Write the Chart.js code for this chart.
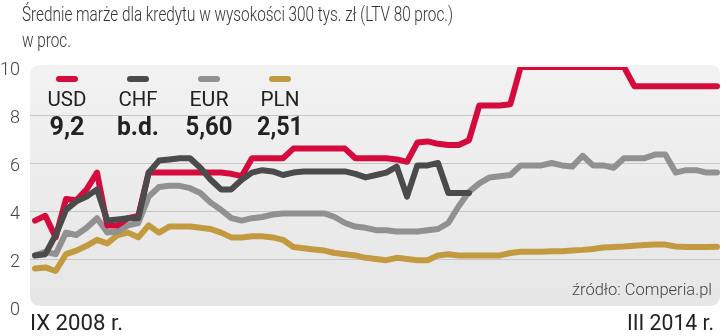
<!DOCTYPE html>
<html>
<head>
<meta charset="utf-8">
<script src="https://cdn.jsdelivr.net/npm/chart.js@4/dist/chart.umd.min.js"></script>
<style>
  html, body { margin: 0; padding: 0; background: #fff; }
  #wrap { position: relative; width: 721px; height: 336px; }
</style>
</head>
<body>
<div id="wrap"><canvas id="marginChart"></canvas></div>
<script>
// Średnie marże kredytowe, miesięcznie IX 2008 - III 2014 (w proc.)
var usd = [3.6, 3.8, 2.9, 4.5, 4.45, 4.9, 5.6, 3.4, 3.4, 3.7, 3.8, 5.6, 5.6, 5.6, 5.6, 5.6, 5.6,
  5.6, 5.6, 5.55, 5.45, 6.2, 6.2, 6.2, 6.2, 6.6, 6.6, 6.6, 6.6, 6.6, 6.6, 6.2, 6.2, 6.2,
  6.2, 6.15, 6.05, 6.85, 6.9, 6.8, 6.75, 6.75, 6.95, 8.4, 8.4, 8.4, 8.45, 10, 10, 10, 10,
  10, 10, 10, 10, 10, 10, 10, 9.2, 9.2, 9.2, 9.2, 9.2, 9.2, 9.2, 9.2, 9.2];
var chf = [2.15, 2.2, 3.0, 4.05, 4.4, 4.6, 4.9, 3.6, 3.65, 3.7, 3.7, 5.6, 6.1, 6.15, 6.2, 6.2, 5.8,
  5.3, 4.9, 4.9, 5.3, 5.6, 5.7, 5.65, 5.5, 5.6, 5.65, 5.65, 5.65, 5.65, 5.65, 5.55, 5.4, 5.5,
  5.6, 5.85, 4.6, 5.9, 5.9, 6.0, 4.75, 4.75, 4.75];
var eur = [2.15, 2.3, 2.2, 3.1, 3.0, 3.3, 3.7, 3.1, 3.15, 3.4, 3.5, 4.6, 5.0, 5.05, 5.05, 4.95, 4.75,
  4.35, 4.05, 3.7, 3.6, 3.7, 3.75, 3.85, 3.9, 3.9, 3.9, 3.9, 3.9, 3.75, 3.5, 3.35, 3.3, 3.2,
  3.2, 3.15, 3.15, 3.15, 3.2, 3.25, 3.5, 4.2, 4.8, 5.15, 5.4, 5.45, 5.5, 5.9, 5.9, 5.9, 6.0,
  5.9, 5.85, 6.3, 5.9, 5.9, 5.8, 6.2, 6.2, 6.2, 6.35, 6.35, 5.6, 5.7, 5.7, 5.6, 5.6];
var pln = [1.6, 1.65, 1.5, 2.2, 2.35, 2.55, 2.8, 2.65, 3.0, 3.1, 2.9, 3.4, 3.1, 3.35, 3.35, 3.35, 3.3,
  3.25, 3.1, 2.9, 2.9, 2.95, 2.95, 2.9, 2.8, 2.5, 2.45, 2.4, 2.35, 2.25, 2.2, 2.15, 2.05, 2.0,
  1.95, 2.05, 2.0, 1.95, 1.95, 2.15, 2.2, 2.15, 2.15, 2.15, 2.15, 2.15, 2.25, 2.3, 2.3, 2.3, 2.32,
  2.32, 2.35, 2.38, 2.42, 2.48, 2.5, 2.52, 2.55, 2.58, 2.6, 2.6, 2.52, 2.5, 2.5, 2.5, 2.51];

var currencies = ['USD', 'CHF', 'EUR', 'PLN'];
var lastValues = ['9,2', 'b.d.', '5,60', '2,51'];
var colors = ['#d50b3e', '#4b4b4b', '#919191', '#c39a3f'];
var dateLabels = ['IX 2008 r.', 'III 2014 r.'];
var gridValues = [2, 4, 6, 8];
var titleLines = ['Średnie marże dla kredytu w wysokości 300 tys. zł (LTV 80 proc.)', 'w proc.'];
var sourceText = 'źródło: Comperia.pl';

// etykiety miesięcy dla osi kategorii
var roman = ['I', 'II', 'III', 'IV', 'V', 'VI', 'VII', 'VIII', 'IX', 'X', 'XI', 'XII'];
var months = [];
for (var m = 8, y = 2008; months.length < usd.length; m++) {
  if (m > 11) { m = 0; y++; }
  months.push(roman[m] + ' ' + y);
}

// tekst ściśnięty w poziomie (krój wąski); width albo gotowa skala
function squeezeText(ctx, text, x, y, font, color, width, align, scale) {
  ctx.save();
  ctx.font = font;
  ctx.fillStyle = color;
  ctx.textBaseline = 'alphabetic';
  ctx.textAlign = 'left';
  var w = ctx.measureText(text).width;
  var sx = scale || (width ? width / w : 1);
  var left = x;
  if (align === 'center') left = x - (w * sx) / 2;
  if (align === 'right') left = x - w * sx;
  ctx.translate(left, y);
  ctx.scale(sx, 1);
  ctx.fillText(text, 0, 0);
  ctx.restore();
  return sx;
}

function roundRect(ctx, x, y, w, h, r) {
  ctx.beginPath();
  ctx.moveTo(x + r, y);
  ctx.lineTo(x + w - r, y);
  ctx.quadraticCurveTo(x + w, y, x + w, y + r);
  ctx.lineTo(x + w, y + h - r);
  ctx.quadraticCurveTo(x + w, y + h, x + w - r, y + h);
  ctx.lineTo(x + r, y + h);
  ctx.quadraticCurveTo(x, y + h, x, y + h - r);
  ctx.lineTo(x, y + r);
  ctx.quadraticCurveTo(x, y, x + r, y);
  ctx.closePath();
}

var backdrop = {
  id: 'backdrop',
  beforeDatasetsDraw: function(chart) {
    var ctx = chart.ctx;
    var yScale = chart.scales.y;
    var top = yScale.getPixelForValue(10) - 2;
    var bottom = yScale.getPixelForValue(0) - 1;
    ctx.save();
    var grad = ctx.createLinearGradient(0, top, 0, bottom);
    grad.addColorStop(0, '#f2f2f2');
    grad.addColorStop(1, '#e6e6e6');
    ctx.fillStyle = grad;
    roundRect(ctx, 30, top, 690, bottom - top, 11);
    ctx.fill();
    // linie siatki
    ctx.strokeStyle = '#c6c6c6';
    ctx.lineWidth = 1;
    gridValues.forEach(function(v) {
      var py = Math.round(yScale.getPixelForValue(v)) + 0.5;
      ctx.beginPath();
      ctx.moveTo(30, py);
      ctx.lineTo(720, py);
      ctx.stroke();
    });
    ctx.restore();
  },
  afterDraw: function(chart) {
    var ctx = chart.ctx;
    // tytuł
    var titleScale = squeezeText(ctx, titleLines[0], 22, 21, '300 20px Roboto', '#333', 431, 'left');
    squeezeText(ctx, titleLines[1], 22, 47, '300 20px Roboto', '#333', 0, 'left', titleScale);

    // legenda
    var centers = [67, 138, 209, 280];
    currencies.forEach(function(c, i) {
      ctx.save();
      ctx.strokeStyle = colors[i];
      ctx.lineWidth = 6;
      ctx.lineCap = 'round';
      ctx.beginPath();
      ctx.moveTo(centers[i] - 8, 79);
      ctx.lineTo(centers[i] + 8, 79);
      ctx.stroke();
      ctx.restore();
      squeezeText(ctx, c, centers[i], 106, '400 21px Roboto', '#222', 39, 'center');
    });
    var valueWidths = [35, 42, 47, 46];
    lastValues.forEach(function(v, i) {
      squeezeText(ctx, v, centers[i], 135, '700 25px Roboto', '#222', valueWidths[i], 'center');
    });

    // źródło i daty
    squeezeText(ctx, sourceText, 712, 295, '300 17px Roboto', '#444', 140, 'right');
    squeezeText(ctx, dateLabels[0], 30, 330, '400 22px Roboto', '#222', 93, 'left');
    squeezeText(ctx, dateLabels[1], 714, 330, '400 22px Roboto', '#222', 87, 'right');
  }
};

function series(label, values, idx, order) {
  return {
    label: label,
    data: values,
    borderColor: colors[idx],
    backgroundColor: colors[idx],
    borderWidth: 6,
    borderJoinStyle: 'round',
    borderCapStyle: 'round',
    pointRadius: 0,
    tension: 0,
    fill: false,
    order: order
  };
}

var ctx = document.getElementById('marginChart').getContext('2d');
var chart = new Chart(ctx, {
  type: 'line',
  data: {
    labels: months,
    datasets: [
      series('USD', usd, 0, 1),
      series('CHF', chf, 1, 0),
      series('EUR', eur, 2, 2),
      series('PLN', pln, 3, 3)
    ]
  },
  options: {
    responsive: true,
    maintainAspectRatio: false,
    animation: false,
    layout: { padding: { top: 67, bottom: 29, left: 0, right: 4 } },
    plugins: {
      legend: { display: false },
      tooltip: { enabled: false },
      title: { display: false }
    },
    scales: {
      x: { display: false, offset: false },
      y: {
        min: 0,
        max: 10,
        afterFit: function(scale) { scale.width = 35; },
        border: { display: false },
        grid: { display: false, drawTicks: false },
        ticks: {
          stepSize: 2,
          padding: 15,
          labelOffset: 3,
          color: '#444',
          font: { family: 'Roboto', weight: '300', size: 18 }
        }
      }
    }
  },
  plugins: [backdrop]
});
</script>
</body>
</html>
